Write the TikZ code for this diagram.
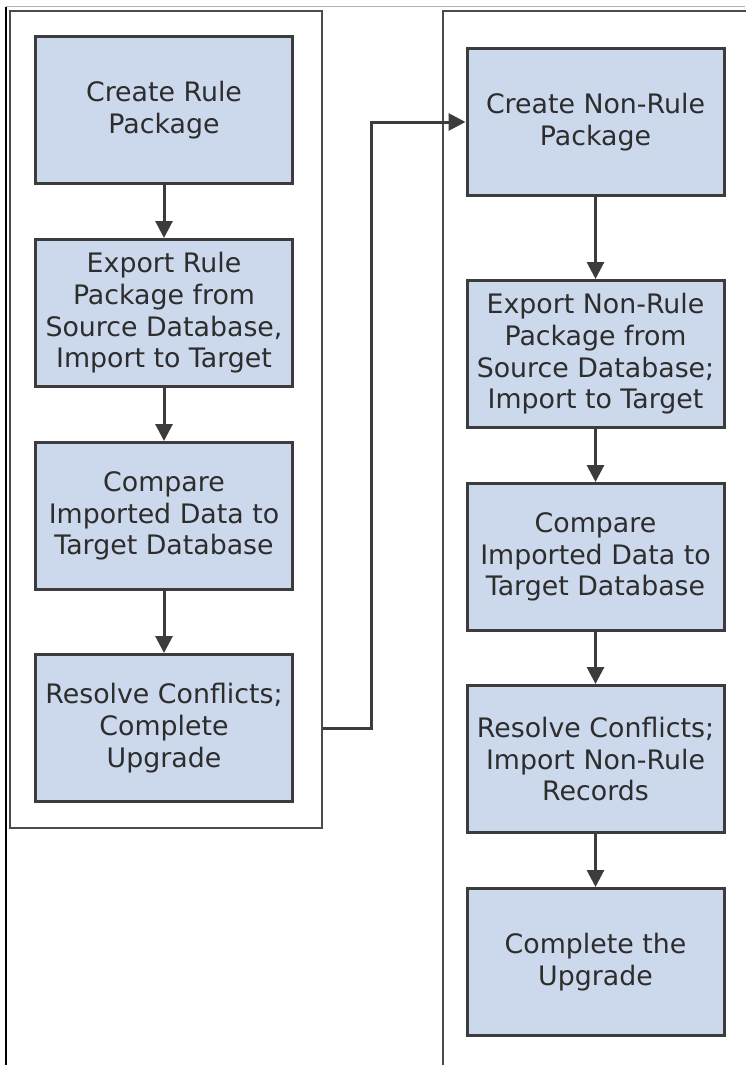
\documentclass[tikz,border=0pt]{standalone}
\usepackage{fontspec}
\setmainfont{DejaVu Sans}
\usetikzlibrary{arrows.meta}
\definecolor{box-blue}{RGB}{204, 217, 236}
\definecolor{box-edge}{RGB}{60, 60, 60}
\definecolor{lane-edge}{RGB}{75, 75, 75}
\definecolor{text-gray}{RGB}{45, 45, 45}
\tikzset{
  stepbox/.style={draw=box-edge, fill=box-blue, line width=3pt, text=text-gray,
    minimum width=257pt, minimum height=147pt, align=center, inner sep=0pt,
    font=\fontsize{26.8}{31.7}\selectfont},
  lane/.style={draw=lane-edge, line width=2.7pt, inner sep=0pt},
  flow/.style={draw=box-edge, line width=3pt, -{Triangle[width=17pt,length=17pt]}}
}
\begin{document}
\begin{tikzpicture}[x=1pt, y=-1pt]
            \useasboundingbox (0,0) rectangle (745,1065);
            % Page frame
            \draw[gray!60, line width=1pt] (6,7) -- (745,7);
            \draw[black, line width=1.4pt] (6,7) -- (6,1065);
            % Rule lane
            \node[lane, minimum width=312pt, minimum height=817pt] (rulelane) at (166, 419.5) {};
            \node[stepbox] (rulecreate) at (164, 110) {Create Rule\\Package};
            \node[stepbox] (ruleexport) at (164, 313) {Export Rule\\Package from\\Source Database,\\Import to Target};
            \node[stepbox] (rulecompare) at (164, 516) {Compare\\Imported Data to\\Target Database};
            \node[stepbox] (ruleresolve) at (164, 728) {Resolve Conflicts;\\Complete\\Upgrade};
            % Non-rule lane (runs off the page)
            \node[lane, minimum width=400pt, minimum height=1200pt] (nonrulelane) at (643, 611) {};
            \node[stepbox] (nonrulecreate) at (595.5, 122) {Create Non-Rule\\Package};
            \node[stepbox] (nonruleexport) at (595.5, 354) {Export Non-Rule\\Package from\\Source Database;\\Import to Target};
            \node[stepbox] (nonrulecompare) at (595.5, 557) {Compare\\Imported Data to\\Target Database};
            \node[stepbox] (nonruleresolve) at (595.5, 759) {Resolve Conflicts;\\Import Non-Rule\\Records};
            \node[stepbox] (nonrulefinish) at (595.5, 962) {Complete the\\Upgrade};
            % Arrows
            \draw[flow] (rulecreate) -- (ruleexport);
            \draw[flow] (ruleexport) -- (rulecompare);
            \draw[flow] (rulecompare) -- (ruleresolve);
            \draw[flow] (nonrulecreate) -- (nonruleexport);
            \draw[flow] (nonruleexport) -- (nonrulecompare);
            \draw[flow] (nonrulecompare) -- (nonruleresolve);
            \draw[flow] (nonruleresolve) -- (nonrulefinish);
            \draw[flow] (rulelane.east |- ruleresolve.east) -- ++(48,0) |- (nonrulecreate.west);
        \end{tikzpicture}
\end{document}
